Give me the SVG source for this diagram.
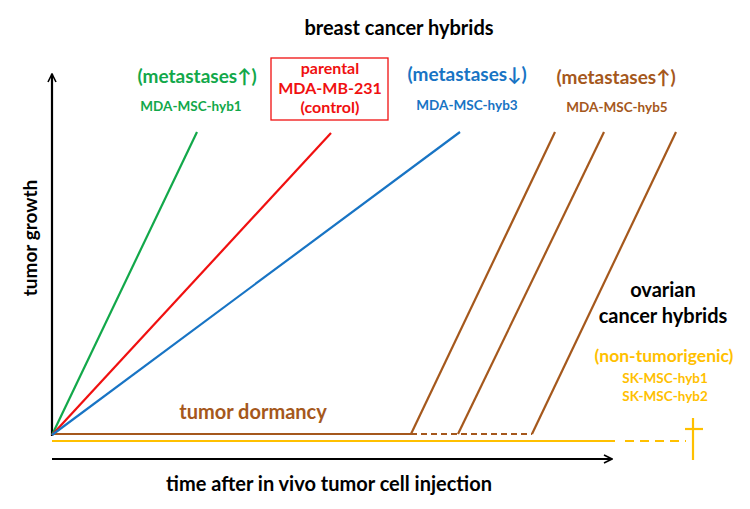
<svg xmlns="http://www.w3.org/2000/svg" width="750" height="509" viewBox="0 0 750 509">
<style>
text{font-family:Lato,"Open Sans","Liberation Sans",sans-serif;font-weight:bold;text-anchor:middle}
.big{font-size:20px}
.mid{font-size:19px}
.box{font-size:16px}
.sm{font-size:13.5px}
.nt{font-size:17.5px}
.g{fill:#12a84a}.r{fill:#f01010}.b{fill:#1874c4}.br{fill:#a5581c}.y{fill:#ffc000}.k{fill:#000}
.ln{stroke-width:2.2;fill:none}
</style>
<defs>
<marker id="ah" viewBox="0 0 10 10" refX="9" refY="5" markerWidth="10" markerHeight="10" markerUnits="userSpaceOnUse" orient="auto">
<path d="M1,1 L9,5 L1,9" fill="none" stroke="#000" stroke-width="1.6"/>
</marker>
</defs>
<rect width="750" height="509" fill="#fff"/>
<g id="connectors">
<line x1="52" y1="436" x2="52" y2="74" stroke="#000" stroke-width="2.2" marker-end="url(#ah)"/>
<line x1="52" y1="459" x2="612" y2="459" stroke="#000" stroke-width="2.2" marker-end="url(#ah)"/>
<line class="ln" x1="52" y1="441" x2="615" y2="441" stroke="#ffc000"/>
<line class="ln" x1="625" y1="441" x2="686" y2="441" stroke="#ffc000" stroke-dasharray="9,6"/>
<line class="ln" x1="693" y1="418" x2="693" y2="460" stroke="#ffc000"/>
<line class="ln" x1="685" y1="429" x2="703" y2="429" stroke="#ffc000"/>
<line class="ln" x1="52" y1="434" x2="411" y2="434" stroke="#a5581c" stroke-width="1.8"/>
<line class="ln" x1="411" y1="434" x2="532" y2="434" stroke="#a5581c" stroke-width="1.6" stroke-dasharray="6,4"/>
<line class="ln" x1="52" y1="435" x2="197" y2="132" stroke="#12a84a"/>
<line class="ln" x1="52" y1="435" x2="331" y2="133" stroke="#f01010"/>
<line class="ln" x1="52" y1="435" x2="460" y2="132" stroke="#1874c4"/>
<line class="ln" x1="411" y1="434" x2="555" y2="132" stroke="#a5581c"/>
<line class="ln" x1="458" y1="434" x2="604" y2="132" stroke="#a5581c"/>
<line class="ln" x1="532" y1="434" x2="676" y2="132" stroke="#a5581c"/>
</g>
<g id="title"><text class="big k" x="399" y="35">breast cancer hybrids</text></g>
<g id="hyb1">
<text class="mid g" x="197" y="83">(metastases↑)</text>
<text class="sm g" x="191" y="111">MDA-MSC-hyb1</text>
</g>
<g id="parental">
<rect x="271" y="58" width="117" height="62" fill="none" stroke="#f01010" stroke-width="1.3"/>
<text class="box r" x="330" y="74">parental</text>
<text class="box r" x="330" y="93.5">MDA-MB-231</text>
<text class="box r" x="330" y="113">(control)</text>
</g>
<g id="hyb3">
<text class="mid b" x="467" y="81">(metastases↓)</text>
<text class="sm b" x="467" y="110">MDA-MSC-hyb3</text>
</g>
<g id="hyb5">
<text class="mid br" x="616" y="84">(metastases↑)</text>
<text class="sm br" x="617" y="112">MDA-MSC-hyb5</text>
</g>
<g id="ovarian">
<text class="big k" x="663" y="297">ovarian</text>
<text class="big k" x="663" y="323">cancer hybrids</text>
<text class="nt y" x="664" y="362">(non-tumorigenic)</text>
<text class="sm y" x="665" y="383">SK-MSC-hyb1</text>
<text class="sm y" x="665" y="401">SK-MSC-hyb2</text>
</g>
<g id="dormancy"><text class="big br" x="253" y="419">tumor dormancy</text></g>
<g id="yaxis"><text class="mid k" transform="translate(37,238) rotate(-90)">tumor growth</text></g>
<g id="xaxis"><text class="big k" x="329" y="491">time after in vivo tumor cell injection</text></g>
</svg>
